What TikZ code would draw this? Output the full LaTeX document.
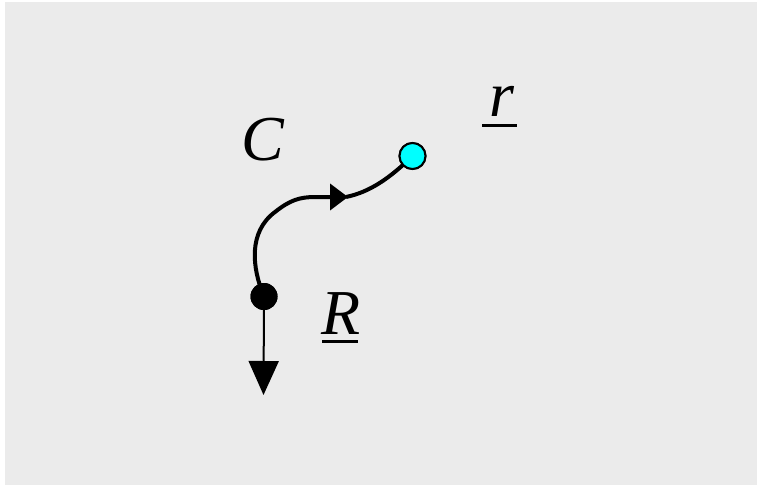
\documentclass[tikz,border=0pt]{standalone}
\usepackage{fontspec}
\setmainfont{Liberation Serif}[ItalicFont={Liberation Serif Italic}]
\usetikzlibrary{arrows.meta}
\definecolor{bggray}{HTML}{EBEBEB}
\definecolor{cyandot}{HTML}{00FFFF}
\begin{document}
\begin{tikzpicture}[x=1pt,y=-1pt,
  lbl/.style={inner sep=0pt,anchor=base,font=\fontsize{64}{72}\selectfont\itshape},
  curve/.style={line width=4pt},
  uline/.style={line width=3pt}]
\useasboundingbox (0,0) rectangle (758,485);
\fill[bggray] (5,2) rectangle (757,485);
% labels
\node[lbl] (C) at (263,160) {C};
\node[lbl] (r) at (502,116) {r};
\node[lbl] (R) at (341,334) {R};
\coordinate (ru1) at (482,125.5);
\coordinate (ru2) at (517,125.5);
\coordinate (Ru1) at (322,341.5);
\coordinate (Ru2) at (358,341.5);
\draw[uline] (ru1) -- (ru2);
\draw[uline] (Ru1) -- (Ru2);
% points
\node[circle,fill=black,inner sep=0pt,minimum size=27pt] (Rp) at (264,296.5) {};
\node[circle,fill=cyandot,draw=black,line width=2pt,inner sep=0pt,minimum size=26pt] (rp) at (412.5,156) {};
\coordinate (mid) at (348,197);
\coordinate (down) at (263.5,395);
% curve C
\draw[curve,-{Triangle[length=18pt,width=26pt]}] (Rp.center) .. controls (252,268) and (248,232) .. (275,212)
  .. controls (290,200) and (300,197) .. (315,197) -- (mid);
\draw[curve] ([xshift=-2pt]mid) .. controls (370,192) and (390,178) .. (rp.center);
% downward vector
\draw[line width=2pt,-{Triangle[length=34pt,width=30pt]}] (Rp.center) -- (down);
\node[circle,fill=black,inner sep=0pt,minimum size=27pt] at (Rp.center) {};
\node[circle,fill=cyandot,draw=black,line width=2pt,inner sep=0pt,minimum size=26pt] at (rp.center) {};
\end{tikzpicture}
\end{document}
